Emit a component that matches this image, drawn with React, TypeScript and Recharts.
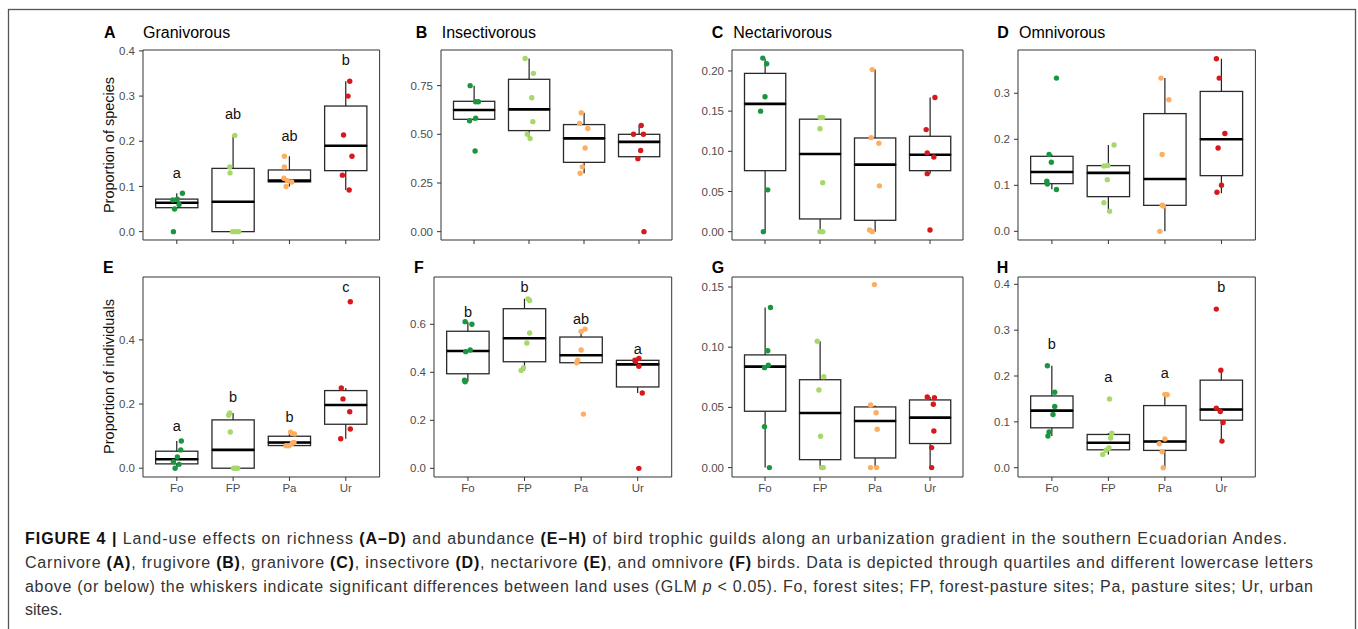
import React from "react";
import { ComposedChart, Bar, Scatter, XAxis, YAxis, ReferenceArea } from "recharts";

const FONT = "'Liberation Sans', Arial, Helvetica, sans-serif";
const cats = ["Fo", "FP", "Pa", "Ur"];
const colors = ["#1a9641", "#a6d96a", "#fdae61", "#d7191c"];

// box stats per land use: [lower whisker, q1, median, q3, upper whisker]
// A - granivorous, proportion of species
const spGranBox = [
  [0.05, 0.053, 0.064, 0.072, 0.085],
  [0, 0, 0.066, 0.14, 0.213],
  [0.1, 0.11, 0.113, 0.1365, 0.167],
  [0.092, 0.135, 0.19, 0.278, 0.333],
];
const spGranPts = [
  [0, 0.05, 0.06, 0.07, 0.072, 0.085],
  [0, 0, 0, 0.13, 0.143, 0.213],
  [0.167, 0.143, 0.118, 0.113, 0.11, 0.1],
  [0.333, 0.3, 0.214, 0.167, 0.125, 0.092],
];
const spGranJit = [
  [-0.06, -0.04, 0.04, -0.07, 0.01, 0.1],
  [-0.01, 0.05, 0.1, -0.055, -0.06, 0.03],
  [-0.09, -0.09, -0.1, -0.04, 0.04, -0.06],
  [0.07, 0.04, -0.04, 0.11, -0.06, 0.06],
];
const spGranLetters = ["a", "ab", "ab", "b"];
const spGranLetterY = [0.129, 0.26, 0.212, 0.38];
const spGranTicks = [0, 0.1, 0.2, 0.3, 0.4];

// B - insectivorous
const spInsBox = [
  [0.57, 0.577, 0.625, 0.6695, 0.75],
  [0.478, 0.519, 0.628, 0.7825, 0.889],
  [0.3, 0.356, 0.479, 0.55, 0.611],
  [0.375, 0.385, 0.461, 0.5, 0.545],
];
const spInsPts = [
  [0.75, 0.667, 0.667, 0.583, 0.57, 0.414],
  [0.889, 0.813, 0.688, 0.565, 0.5, 0.478],
  [0.611, 0.556, 0.53, 0.43, 0.333, 0.3],
  [0.545, 0.5, 0.5, 0.417, 0.375, 0],
];
const spInsJit = [
  [-0.07, 0.03, 0.08, 0.03, -0.08, 0.02],
  [-0.07, 0.08, 0.05, 0.07, -0.03, 0.02],
  [-0.05, -0.08, 0.07, 0.02, -0.03, -0.07],
  [0.04, -0.1, 0.08, 0.03, -0.02, 0.09],
];
const spInsTicks = [0, 0.25, 0.5, 0.75];

// C - nectarivorous
const spNecBox = [
  [0, 0.0759, 0.159, 0.197, 0.215],
  [0, 0.0158, 0.0967, 0.14, 0.142],
  [0, 0.0141, 0.0834, 0.1166, 0.2017],
  [0.0722, 0.0759, 0.0958, 0.1187, 0.167],
];
const spNecPts = [
  [0.216, 0.209, 0.168, 0.15, 0.052, 0],
  [0.142, 0.142, 0.128, 0.061, 0, 0],
  [0.2017, 0.117, 0.11, 0.057, 0.002, 0],
  [0.167, 0.127, 0.098, 0.093, 0.0722, 0.002],
];
const spNecJit = [
  [-0.04, 0.03, 0.0, -0.08, 0.05, -0.03],
  [0.0, 0.05, 0.0, 0.05, 0.0, 0.05],
  [-0.05, -0.07, 0.07, 0.08, -0.1, -0.05],
  [0.09, -0.07, -0.05, 0.07, -0.05, 0.0],
];
const spNecTicks = [0, 0.05, 0.1, 0.15, 0.2];

// D - omnivorous
const spOmnBox = [
  [0.0913, 0.1036, 0.129, 0.163, 0.167],
  [0.0435, 0.0754, 0.127, 0.1428, 0.1875],
  [0, 0.0565, 0.1138, 0.2558, 0.333],
  [0.083, 0.121, 0.2, 0.304, 0.375],
];
const spOmnPts = [
  [0.333, 0.167, 0.15, 0.109, 0.103, 0.091],
  [0.1875, 0.143, 0.142, 0.1123, 0.0623, 0.0435],
  [0.333, 0.286, 0.167, 0.057, 0.055, 0],
  [0.375, 0.333, 0.2125, 0.181, 0.1, 0.085],
];
const spOmnJit = [
  [0.08, -0.05, -0.01, -0.09, -0.08, 0.08],
  [0.1, -0.01, -0.08, -0.02, -0.08, 0.02],
  [-0.07, 0.07, -0.05, -0.05, -0.03, -0.09],
  [-0.09, -0.04, 0.06, -0.06, 0.0, -0.08],
];
const spOmnTicks = [0, 0.1, 0.2, 0.3];

// E - granivorous, proportion of individuals
const inGranBox = [
  [0, 0.0135, 0.028, 0.053, 0.085],
  [0, 0, 0.057, 0.1506, 0.172],
  [0.07, 0.0706, 0.08, 0.0997, 0.112],
  [0.092, 0.137, 0.197, 0.242, 0.25],
];
const inGranPts = [
  [0, 0.012, 0.02, 0.035, 0.057, 0.085],
  [0.172, 0.165, 0.113, 0, 0, 0],
  [0.112, 0.107, 0.08, 0.078, 0.07, 0.07],
  [0.519, 0.25, 0.216, 0.176, 0.122, 0.092],
];
const inGranJit = [
  [-0.03, 0.04, -0.06, 0.01, 0.07, 0.08],
  [-0.06, -0.08, -0.05, 0.01, 0.04, 0.08],
  [0.02, 0.09, 0.08, 0.05, -0.06, -0.01],
  [0.08, -0.08, -0.05, 0.07, 0.08, -0.09],
];
const inGranLetters = ["a", "b", "b", "c"];
const inGranLetterY = [0.131, 0.221, 0.159, 0.564];
const inGranTicks = [0, 0.2, 0.4];

// F - insectivorous
const inInsBox = [
  [0.361, 0.394, 0.489, 0.571, 0.611],
  [0.408, 0.444, 0.542, 0.665, 0.706],
  [0.44, 0.44, 0.471, 0.547, 0.58],
  [0.314, 0.339, 0.433, 0.45, 0.458],
];
const inInsPts = [
  [0.611, 0.6, 0.493, 0.486, 0.367, 0.361],
  [0.706, 0.699, 0.564, 0.522, 0.419, 0.408],
  [0.58, 0.57, 0.493, 0.45, 0.44, 0.226],
  [0.458, 0.45, 0.445, 0.425, 0.314, 0],
];
const inInsJit = [
  [-0.05, 0.07, 0.04, -0.04, -0.06, -0.05],
  [0.06, 0.09, 0.09, 0.04, -0.02, -0.06],
  [0.07, 0.0, 0.0, -0.06, -0.08, 0.04],
  [0.02, -0.05, -0.04, 0.02, 0.08, 0.02],
];
const inInsLetters = ["b", "b", "ab", "a"];
const inInsLetterY = [0.651, 0.756, 0.621, 0.496];
const inInsTicks = [0, 0.2, 0.4, 0.6];

// G - nectarivorous
const inNecBox = [
  [0, 0.0468, 0.0839, 0.0936, 0.133],
  [0, 0.0066, 0.0454, 0.073, 0.105],
  [0, 0.008, 0.0387, 0.0504, 0.0515],
  [0, 0.02, 0.0415, 0.0562, 0.0587],
];
const inNecPts = [
  [0.133, 0.097, 0.085, 0.083, 0.034, 0],
  [0.105, 0.0755, 0.0645, 0.026, 0, 0],
  [0.152, 0.052, 0.0455, 0.0318, 0, 0],
  [0.0587, 0.0581, 0.0526, 0.0304, 0.0166, 0],
];
const inNecJit = [
  [0.1, 0.05, 0.06, -0.01, -0.01, 0.08],
  [-0.05, 0.07, -0.02, 0.01, 0.03, 0.06],
  [-0.01, -0.08, 0.02, 0.04, -0.08, 0.03],
  [-0.05, 0.08, 0.06, 0.07, 0.03, 0.03],
];
const inNecTicks = [0, 0.05, 0.1, 0.15];

// H - omnivorous
const inOmnBox = [
  [0.069, 0.087, 0.1246, 0.1565, 0.2225],
  [0.029, 0.039, 0.0543, 0.0725, 0.075],
  [0, 0.0377, 0.0572, 0.1355, 0.16],
  [0.058, 0.1036, 0.1268, 0.191, 0.213],
];
const inOmnPts = [
  [0.2225, 0.1645, 0.1335, 0.116, 0.078, 0.069],
  [0.15, 0.075, 0.065, 0.043, 0.038, 0.029],
  [0.16, 0.159, 0.0627, 0.0522, 0.0348, 0],
  [0.346, 0.2127, 0.13, 0.1225, 0.0986, 0.058],
];
const inOmnJit = [
  [-0.08, 0.05, 0.05, 0.02, -0.05, -0.07],
  [0.02, 0.06, 0.04, 0.01, -0.04, -0.1],
  [0, 0.04, 0, -0.1, -0.05, -0.03],
  [-0.09, -0.01, -0.09, -0.02, 0.03, 0.01],
];
const inOmnLetters = ["b", "a", "a", "b"];
const inOmnLetterY = [0.2696, 0.197, 0.2065, 0.394];
const inOmnTicks = [0, 0.1, 0.2, 0.3, 0.4];

const panels = [
  { tag: "A", title: "Granivorous", tagX: 104, titleX: 143, box: spGranBox, pts: spGranPts, jit: spGranJit, letters: spGranLetters, letterY: spGranLetterY, ticks: spGranTicks, dec: 1, domain: [-0.0185, 0.402], left: 142.7, right: 379.3, top: 50, bottom: 240, showX: false },
  { tag: "B", title: "Insectivorous", tagX: 415.7, titleX: 441.7, box: spInsBox, pts: spInsPts, jit: spInsJit, ticks: spInsTicks, dec: 2, domain: [-0.0428, 0.933], left: 440.7, right: 671.7, top: 50, bottom: 240, showX: false },
  { tag: "C", title: "Nectarivorous", tagX: 711.7, titleX: 733.3, box: spNecBox, pts: spNecPts, jit: spNecJit, ticks: spNecTicks, dec: 2, domain: [-0.0104, 0.2261], left: 732.3, right: 963.3, top: 50, bottom: 240, showX: false },
  { tag: "D", title: "Omnivorous", tagX: 997.3, titleX: 1019, box: spOmnBox, pts: spOmnPts, jit: spOmnJit, ticks: spOmnTicks, dec: 1, domain: [-0.0188, 0.394], left: 1018.3, right: 1255.7, top: 50, bottom: 240, showX: false },
  { tag: "E", tagX: 103, box: inGranBox, pts: inGranPts, jit: inGranJit, letters: inGranLetters, letterY: inGranLetterY, ticks: inGranTicks, dec: 1, domain: [-0.0274, 0.596], left: 142.7, right: 379.3, top: 276.5, bottom: 476.5, showX: true },
  { tag: "F", tagX: 414, box: inInsBox, pts: inInsPts, jit: inInsJit, letters: inInsLetters, letterY: inInsLetterY, ticks: inInsTicks, dec: 1, domain: [-0.036, 0.797], left: 434.3, right: 672, top: 276.5, bottom: 476.5, showX: true },
  { tag: "G", tagX: 711.7, box: inNecBox, pts: inNecPts, jit: inNecJit, ticks: inNecTicks, dec: 2, domain: [-0.0078, 0.1583], left: 732.3, right: 963.3, top: 276.5, bottom: 476.5, showX: true },
  { tag: "H", tagX: 996.7, box: inOmnBox, pts: inOmnPts, jit: inOmnJit, letters: inOmnLetters, letterY: inOmnLetterY, ticks: inOmnTicks, dec: 1, domain: [-0.0203, 0.416], left: 1017.7, right: 1255, top: 276.5, bottom: 476.5, showX: true },
];

const AXW = 50;
const MT = 5;
const MR = 5;
const XH = 25;
const XDOM = [0.4, 4.6];

// stacked segments: base (hidden) | lower whisker | lower box half | upper box half (+ median) | upper whisker
const NoShape = () => <g />;
const WhiskerShape = (p: any) =>
  p.height ? (
    <line x1={p.x + p.width / 2} x2={p.x + p.width / 2} y1={p.y} y2={p.y + p.height} stroke="#222" strokeWidth={1.2} />
  ) : (
    <g />
  );
const LowBoxShape = (p: any) => (
  <rect x={p.x} y={p.y} width={p.width} height={Math.max(p.height, 0)} fill="#fff" stroke="#2a2a2a" strokeWidth={1.3} />
);
const HighBoxShape = (p: any) => (
  <g>
    <rect x={p.x} y={p.y} width={p.width} height={Math.max(p.height, 0)} fill="#fff" stroke="#2a2a2a" strokeWidth={1.3} />
    <line x1={p.x} x2={p.x + p.width} y1={p.y + p.height} y2={p.y + p.height} stroke="#000" strokeWidth={2.6} />
  </g>
);

function Panel({ cfg }: { cfg: any }) {
  const plotW = cfg.right - cfg.left;
  const plotH = cfg.bottom - cfg.top;
  const barSize = (plotW / 4.2) * 0.75;
  const boxData = cfg.box.map((b: number[], i: number) => ({
    x: i + 1,
    base: b[0],
    wLo: b[1] - b[0],
    bLo: b[2] - b[1],
    bHi: b[3] - b[2],
    wHi: b[4] - b[3],
  }));
  const ptData = cfg.pts.map((vals: number[], i: number) =>
    vals.map((v, j) => ({ x: i + 1 + cfg.jit[i][j], y: v }))
  );
  const letterData = cfg.letters
    ? cfg.letters.map((t: string, i: number) => ({ x: i + 1, y: cfg.letterY[i], t }))
    : [];
  const tickStyle = { fill: "#4d4d4d", fontSize: 11.5, fontFamily: FONT };

  return (
    <div style={{ position: "absolute", left: cfg.left - AXW, top: cfg.top - MT }}>
      <ComposedChart
        width={plotW + AXW + MR}
        height={plotH + MT + XH}
        data={boxData}
        margin={{ top: MT, right: MR, bottom: 0, left: 0 }}
        barSize={barSize}
      >
        <XAxis
          type="number"
          dataKey="x"
          domain={XDOM}
          ticks={[1, 2, 3, 4]}
          allowDataOverflow
          interval={0}
          axisLine={false}
          tickLine={{ stroke: "#333" }}
          tickSize={4}
          tickMargin={3}
          height={XH}
          tick={tickStyle}
          tickFormatter={(v: number) => (cfg.showX ? cats[v - 1] : "")}
        />
        <XAxis xAxisId="pts" type="number" dataKey="x" domain={XDOM} allowDataOverflow hide />
        <YAxis
          type="number"
          dataKey="y"
          domain={cfg.domain}
          ticks={cfg.ticks}
          allowDataOverflow
          interval={0}
          width={AXW}
          axisLine={false}
          tickLine={{ stroke: "#333" }}
          tickSize={4}
          tickMargin={4}
          tick={tickStyle}
          tickFormatter={(v: number) => v.toFixed(cfg.dec)}
        />
        <Bar dataKey="base" stackId="box" isAnimationActive={false} shape={NoShape} />
        <Bar dataKey="wLo" stackId="box" isAnimationActive={false} shape={WhiskerShape} />
        <Bar dataKey="bLo" stackId="box" isAnimationActive={false} shape={LowBoxShape} />
        <Bar dataKey="bHi" stackId="box" isAnimationActive={false} shape={HighBoxShape} />
        <Bar dataKey="wHi" stackId="box" isAnimationActive={false} shape={WhiskerShape} />
        {ptData.map((d: any[], i: number) => (
          <Scatter
            key={cats[i]}
            xAxisId="pts"
            data={d}
            isAnimationActive={false}
            shape={(s: any) => <circle cx={s.cx} cy={s.cy} r={2.7} fill={colors[i]} />}
          />
        ))}
        {letterData.length > 0 && (
          <Scatter
            xAxisId="pts"
            data={letterData}
            isAnimationActive={false}
            shape={(s: any) => (
              <text x={s.cx} y={s.cy} dy="0.35em" textAnchor="middle" fontSize={14.5} fontFamily={FONT} fill="#111">
                {s.payload.t}
              </text>
            )}
          />
        )}
        <ReferenceArea
          x1={XDOM[0]}
          x2={XDOM[1]}
          y1={cfg.domain[0]}
          y2={cfg.domain[1]}
          fill="none"
          stroke="#333"
          strokeWidth={1}
          ifOverflow="visible"
        />
      </ComposedChart>
    </div>
  );
}

export default function App() {
  const bold = { fontWeight: 700, fill: "#111" } as const;
  return (
    <div style={{ position: "absolute", left: 0, top: 0, width: 1358, height: 629, overflow: "hidden", background: "#fff", fontFamily: FONT }}>
      <svg width={1358} height={629} style={{ position: "absolute", left: 0, top: 0 }}>
        <rect x={8.5} y={9.5} width={1347} height={700} fill="none" stroke="#555" strokeWidth={1.3} />
        {panels.map((p) => (
          <g key={p.tag} fontFamily={FONT} fill="#000">
            <text x={p.tagX} y={p.top === 50 ? 38.3 : 272.7} fontSize={16} fontWeight={700}>{p.tag}</text>
            {p.title && (
              <text x={p.titleX} y={38.3} fontSize={16}>{p.title}</text>
            )}
          </g>
        ))}
        <text transform="translate(114,145) rotate(-90)" textAnchor="middle" fontSize={14.5} fontFamily={FONT} fill="#111">
          Proportion of species
        </text>
        <text transform="translate(114,376.5) rotate(-90)" textAnchor="middle" fontSize={14.5} fontFamily={FONT} fill="#111">
          Proportion of individuals
        </text>
        <g fontFamily={FONT} fontSize={16} fill="#333">
          <text x={25} y={544.3} textLength={1262} lengthAdjust="spacing">
            <tspan {...bold}>FIGURE 4 |</tspan>
            {" Land-use effects on richness "}
            <tspan {...bold}>(A–D)</tspan>
            {" and abundance "}
            <tspan {...bold}>(E–H)</tspan>
            {" of bird trophic guilds along an urbanization gradient in the southern Ecuadorian Andes."}
          </text>
          <text x={25} y={567.9} textLength={1288} lengthAdjust="spacing">
            {"Carnivore "}
            <tspan {...bold}>(A)</tspan>
            {", frugivore "}
            <tspan {...bold}>(B)</tspan>
            {", granivore "}
            <tspan {...bold}>(C)</tspan>
            {", insectivore "}
            <tspan {...bold}>(D)</tspan>
            {", nectarivore "}
            <tspan {...bold}>(E)</tspan>
            {", and omnivore "}
            <tspan {...bold}>(F)</tspan>
            {" birds. Data is depicted through quartiles and different lowercase letters"}
          </text>
          <text x={25} y={591.5} textLength={1288} lengthAdjust="spacing">
            {"above (or below) the whiskers indicate significant differences between land uses (GLM "}
            <tspan fontStyle="italic">p</tspan>
            {" < 0.05). Fo, forest sites; FP, forest-pasture sites; Pa, pasture sites; Ur, urban"}
          </text>
          <text x={25} y={615}>sites.</text>
        </g>
      </svg>
      {panels.map((p) => (
        <Panel key={p.tag} cfg={p} />
      ))}
    </div>
  );
}
